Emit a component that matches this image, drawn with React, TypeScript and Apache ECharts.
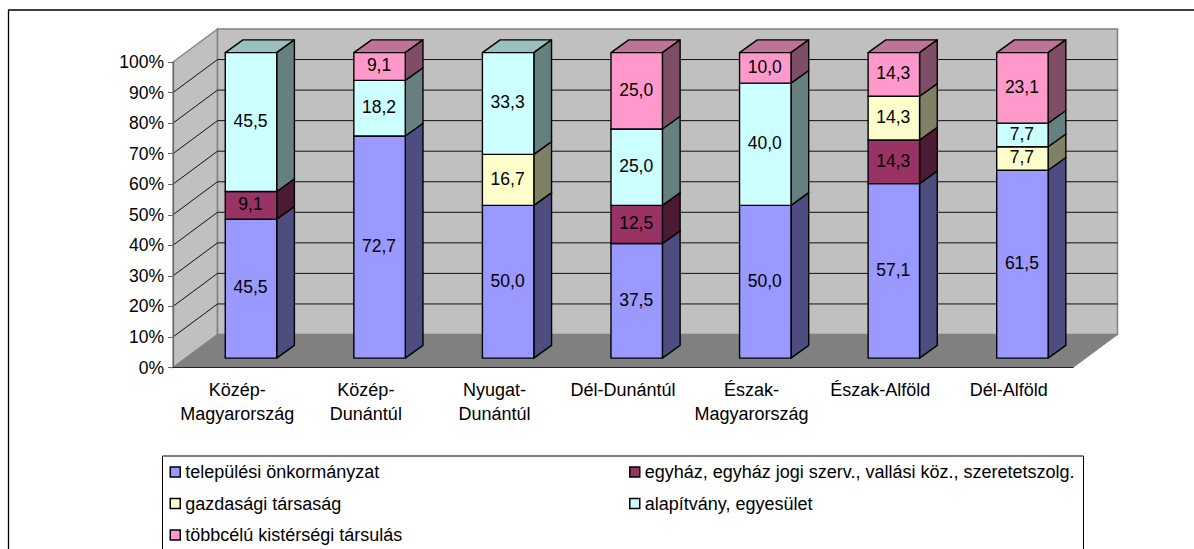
import React, { useEffect, useRef } from "react";
import * as echarts from "echarts";

const categories = ["Közép-\nMagyarország", "Közép-\nDunántúl", "Nyugat-\nDunántúl", "Dél-Dunántúl", "Észak-\nMagyarország", "Észak-Alföld", "Dél-Alföld"];
const seriesNames = [
  "települési önkormányzat",
  "egyház, egyház jogi szerv., vallási köz., szeretetszolg.",
  "gazdasági társaság",
  "alapítvány, egyesület",
  "többcélú kistérségi társulás",
];
const onkormanyzat = [45.5, 72.7, 50.0, 37.5, 50.0, 57.1, 61.5];
const egyhaz = [9.1, 0, 0, 12.5, 0, 14.3, 0];
const gazdasagi = [0, 0, 16.7, 0, 0, 14.3, 7.7];
const alapitvany = [45.5, 18.2, 33.3, 25.0, 40.0, 0, 7.7];
const tobbcelu = [0, 9.1, 0, 25.0, 10.0, 14.3, 23.1];
const yTicks = [10, 20, 30, 40, 50, 60, 70, 80, 90, 100];

const rows = [onkormanyzat, egyhaz, gazdasagi, alapitvany, tobbcelu];
const frontColors = ["#9999FF", "#993366", "#FFFFCC", "#CCFFFF", "#FF99CC"];
const topColors = ["#7373BF", "#73264D", "#BFBF99", "#99BFBF", "#BF7399"];
const sideColors = ["#4D4D80", "#4D1A33", "#808066", "#668080", "#804D66"];

const FONT = "'Liberation Sans', Arial, sans-serif";
const NUM_SIZE = 17.5;
const TEXT_SIZE = 18;
const WALL_DX = 44.5;
const WALL_DY = 33;
const BAR_DX = 17.7;
const BAR_DY = 12.7;
const BAR_SHIFT_X = 13.7;
const BAR_SHIFT_Y = 9.4;
const BAR_RATIO = 0.4;

const wallSeries = {
  type: "custom",
  silent: true,
  z: 1,
  data: [0],
  encode: { x: 0 },
  renderItem: (params: any, api: any) => {
    const cs = params.coordSys;
    const x0 = cs.x;
    const x1 = cs.x + cs.width;
    const yTop = cs.y;
    const yBot = cs.y + cs.height;
    const line = (x1a: number, y1a: number, x2a: number, y2a: number, stroke: string, lineWidth = 1) => ({
      type: "line",
      shape: { x1: x1a, y1: y1a, x2: x2a, y2: y2a },
      style: { stroke, lineWidth },
    });
    const children: any[] = [
      {
        type: "polygon",
        shape: { points: [[x0, yTop], [x0 + WALL_DX, yTop - WALL_DY], [x0 + WALL_DX, yBot - WALL_DY], [x0, yBot]] },
        style: { fill: "#C0C0C0", stroke: "#808080", lineWidth: 1.3 },
      },
      {
        type: "rect",
        shape: { x: x0 + WALL_DX, y: yTop - WALL_DY, width: x1 - x0, height: yBot - yTop },
        style: { fill: "#C0C0C0", stroke: "#808080", lineWidth: 1.5 },
      },
    ];
    yTicks.forEach((t) => {
      const y = api.coord([0, t])[1];
      if (t < 100) children.push(line(x0 + WALL_DX, y - WALL_DY, x1 + WALL_DX, y - WALL_DY, "#111"));
      if (t < 100) children.push(line(x0, y, x0 + WALL_DX, y - WALL_DY, "#111"));
    });
    children.push({
      type: "polygon",
      shape: { points: [[x0, yBot], [x1, yBot], [x1 + WALL_DX, yBot - WALL_DY], [x0 + WALL_DX, yBot - WALL_DY]] },
      style: { fill: "#808080", stroke: "#808080", lineWidth: 1 },
    });
    return { type: "group", children };
  },
};

const totals = categories.map((_, i) => rows.reduce((s, r) => s + r[i], 0));
const barSeries = rows.map((row, si) => ({
  type: "custom",
  name: seriesNames[si],
  silent: true,
  z: 2,
  itemStyle: { color: frontColors[si] },
  encode: { x: 0, y: [1, 2] },
  data: row.map((v, i) => {
    const before = rows.slice(0, si).reduce((s, r) => s + r[i], 0);
    return [i, (before / totals[i]) * 100, ((before + v) / totals[i]) * 100, v];
  }),
  renderItem: (_p: any, api: any) => {
    const v = api.value(3);
    if (!v) return null;
    const i = api.value(0);
    const band = api.size([1, 0])[0];
    const w = band * BAR_RATIO;
    const cx = api.coord([i, 0])[0] + BAR_SHIFT_X;
    const l = cx - w / 2;
    const r = cx + w / 2;
    const b = api.coord([i, api.value(1)])[1] - BAR_SHIFT_Y;
    const t = api.coord([i, api.value(2)])[1] - BAR_SHIFT_Y;
    const stroke = { stroke: "#000", lineWidth: 1.4, lineJoin: "round" };
    return {
      type: "group",
      children: [
        { type: "polygon", shape: { points: [[l, t], [r, t], [r + BAR_DX, t - BAR_DY], [l + BAR_DX, t - BAR_DY]] }, style: { fill: topColors[si], ...stroke } },
        { type: "polygon", shape: { points: [[r, b], [r + BAR_DX, b - BAR_DY], [r + BAR_DX, t - BAR_DY], [r, t]] }, style: { fill: sideColors[si], ...stroke } },
        { type: "polygon", shape: { points: [[l, b], [r, b], [r, t], [l, t]] }, style: { fill: frontColors[si], ...stroke } },
        {
          type: "text",
          style: {
            text: v.toFixed(1).replace(".", ","),
            x: cx - 0.5,
            y: (t + b) / 2 - 1.2,
            align: "center",
            verticalAlign: "middle",
            fontFamily: FONT,
            fontSize: NUM_SIZE,
            fill: "#000",
          },
        },
      ],
    };
  },
}));

const legendBase = {
  orient: "vertical",
  icon: "rect",
  itemWidth: 10,
  itemHeight: 10,
  itemGap: 11.5,
  padding: 0,
  selectedMode: false,
  itemStyle: { borderColor: "#000", borderWidth: 1.5 },
  textStyle: { fontFamily: FONT, fontSize: TEXT_SIZE, color: "#000", lineHeight: 20, padding: [0, 0, 0, 0] },
};

const option: any = {
  animation: false,
  backgroundColor: "#fff",
  grid: { left: 173, top: 62, width: 900, height: 305.5, containLabel: false },
  xAxis: {
    type: "category",
    data: categories,
    z: 3,
    boundaryGap: true,
    axisLine: { lineStyle: { color: "#222", width: 1.2 } },
    axisTick: { length: 5, lineStyle: { color: "#555" }, alignWithLabel: false },
    axisLabel: { interval: 0, margin: 11, fontFamily: FONT, fontSize: TEXT_SIZE, color: "#000", lineHeight: 23.5 },
    splitLine: { show: false },
  },
  yAxis: {
    type: "value",
    min: 0,
    max: 100,
    interval: 10,
    z: 3,
    axisLine: { show: true, lineStyle: { color: "#666", width: 1.2 } },
    axisTick: { show: true, length: 5, lineStyle: { color: "#666" } },
    axisLabel: { formatter: "{value}%", margin: 9, fontFamily: FONT, fontSize: NUM_SIZE, color: "#000" },
    splitLine: { show: false },
  },
  legend: [
    { ...legendBase, left: 169.5, top: 462, data: [seriesNames[0], seriesNames[2], seriesNames[4]] },
    { ...legendBase, left: 629, top: 462, data: [seriesNames[1], seriesNames[3]] },
  ],
  graphic: [
    { type: "polyline", shape: { points: [[8.5, 549], [8.5, 10], [1194, 10]] }, style: { stroke: "#000", lineWidth: 1.3, fill: "none" }, silent: true },
    { type: "polyline", shape: { points: [[162.5, 549], [162.5, 456], [1083.5, 456], [1083.5, 549]] }, style: { stroke: "#000", lineWidth: 1, fill: "none" }, silent: true },
  ],
  series: [wallSeries, ...barSeries],
};

export default function App() {
  const ref = useRef<HTMLDivElement>(null);
  useEffect(() => {
    document.body.style.margin = "0";
    const chart = echarts.init(ref.current!, undefined, { renderer: "svg" });
    chart.setOption(option);
    return () => chart.dispose();
  }, []);
  return <div ref={ref} style={{ width: 1194, height: 549 }} />;
}
